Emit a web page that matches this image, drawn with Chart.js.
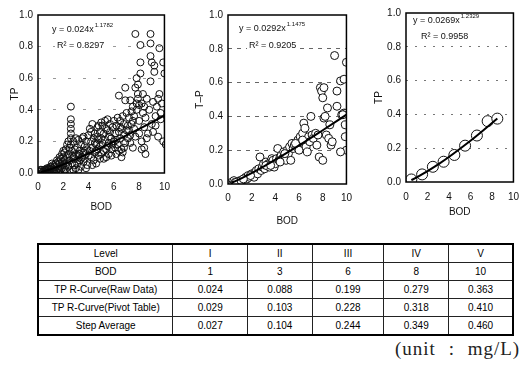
<!DOCTYPE html>
<html>
<head>
<meta charset="utf-8">
<script src="https://cdn.jsdelivr.net/npm/chart.js@4"></script>
<style>
  body { margin: 0; background: #fff; }
  #page { position: relative; width: 528px; height: 368px; overflow: hidden; font-family: "Liberation Sans", Arial, sans-serif; }
  .box { position: absolute; top: 0; }
  #tbl { position: absolute; left: 37px; top: 243px; width: 477px; border-collapse: collapse; border: 2px solid #000; font-size: 10px; color: #000; }
  #tbl td { border: 1px solid #222; height: 17px; padding: 0; text-align: center; }
  #unit { position: absolute; left: 395px; top: 338px; font-family: "Liberation Serif", "DejaVu Serif", serif; font-size: 19px; color: #222; white-space: nowrap; letter-spacing: 1px; word-spacing: 7px; }
</style>
</head>
<body>
<div id="page">
  <div class="box" style="left:0px"><canvas id="c1" width="178" height="218"></canvas></div>
  <div class="box" style="left:180px"><canvas id="c2" width="180" height="232"></canvas></div>
  <div class="box" style="left:362px"><canvas id="c3" width="166" height="222"></canvas></div>
  <table id="tbl"></table>
  <div id="unit">(unit : mg/L)</div>
</div>
<script>
// table rows
const levels = ["I", "II", "III", "IV", "V"];
const bodLevels = [1, 3, 6, 8, 10];
const rawCurve = [0.024, 0.088, 0.199, 0.279, 0.363];
const pivotCurve = [0.029, 0.103, 0.228, 0.318, 0.410];
const stepAverage = [0.027, 0.104, 0.244, 0.349, 0.460];

// chart 1 - raw data
const rawBod = [
  0.1,0.2,0.3,0.3,0.4,0.5,0.5,0.6,0.7,0.7,0.8,0.9,0.9,1.0,1.0,0.2,0.4,0.6,0.8,1.0,
  1.1,1.2,1.2,1.3,1.4,1.4,1.5,1.5,1.6,1.6,1.7,1.7,1.8,1.8,1.9,1.9,2.0,2.0,1.3,1.5,1.7,1.9,1.1,1.6,1.8,2.0,
  2.1,2.1,2.2,2.2,2.3,2.3,2.4,2.4,2.5,2.5,2.6,2.6,2.6,2.6,2.6,2.6,2.7,2.7,2.8,2.8,2.9,2.9,3.0,3.0,2.2,2.4,2.6,2.8,3.0,2.3,2.5,2.7,2.9,2.1,
  3.1,3.1,3.2,3.2,3.3,3.3,3.4,3.4,3.5,3.5,3.6,3.6,3.7,3.7,3.8,3.8,3.9,3.9,4.0,4.0,3.2,3.4,3.6,3.8,3.3,3.7,
  4.1,4.1,4.2,4.2,4.3,4.3,4.4,4.4,4.5,4.5,4.6,4.6,4.7,4.7,4.8,4.8,4.9,4.9,5.0,5.0,4.3,4.5,4.7,4.9,4.2,4.6,4.8,
  5.1,5.1,5.2,5.2,5.3,5.3,5.4,5.4,5.5,5.5,5.6,5.6,5.7,5.7,5.8,5.8,5.9,5.9,6.0,6.0,5.2,5.4,5.6,5.8,5.0,5.5,
  6.1,6.1,6.2,6.2,6.3,6.3,6.4,6.4,6.5,6.5,6.6,6.6,6.7,6.7,6.8,6.8,6.9,6.9,7.0,7.0,6.4,6.6,6.2,6.8,6.9,6.5,
  7.1,7.1,7.2,7.2,7.3,7.3,7.4,7.4,7.5,7.5,7.6,7.6,7.7,7.7,7.8,7.8,7.9,7.9,8.0,8.0,7.7,7.8,7.9,7.5,7.3,
  8.1,8.1,8.1,8.2,8.2,8.3,8.3,8.4,8.4,8.5,8.5,8.6,8.7,8.8,8.9,8.9,8.9,8.9,9.0,9.0,9.1,9.2,9.2,9.3,9.4,9.5,9.5,9.6,9.6,9.7,9.8,9.9,9.9,10.0,10.1,8.6,9.3,9.7,8.4,9.1,8.2,8.0
];
const rawTp = [
  0.01,0.01,0.02,0.00,0.01,0.02,0.00,0.02,0.01,0.03,0.02,0.03,0.01,0.02,0.04,0.02,0.00,0.01,0.03,0.01,
  0.03,0.05,0.02,0.04,0.06,0.01,0.05,0.08,0.03,0.07,0.06,0.10,0.04,0.09,0.07,0.12,0.05,0.10,0.00,0.02,0.01,0.03,0.06,0.00,0.02,0.14,
  0.08,0.13,0.05,0.15,0.10,0.18,0.04,0.12,0.08,0.16,0.42,0.34,0.31,0.28,0.25,0.22,0.06,0.14,0.10,0.20,0.05,0.15,0.12,0.22,0.02,0.20,0.18,0.02,0.03,0.07,0.01,0.11,0.09,0.02,
  0.06,0.16,0.11,0.21,0.08,0.14,0.18,0.04,0.10,0.22,0.13,0.07,0.17,0.09,0.12,0.20,0.15,0.05,0.11,0.24,0.02,0.09,0.23,0.03,0.12,0.14,
  0.14,0.28,0.10,0.20,0.16,0.31,0.08,0.22,0.13,0.25,0.18,0.06,0.15,0.29,0.21,0.11,0.17,0.26,0.12,0.32,0.05,0.19,0.23,0.09,0.26,0.14,0.30,
  0.19,0.30,0.14,0.25,0.21,0.33,0.10,0.28,0.17,0.34,0.23,0.12,0.26,0.31,0.15,0.22,0.29,0.18,0.20,0.33,0.09,0.15,0.19,0.11,0.22,0.27,
  0.25,0.16,0.30,0.21,0.35,0.18,0.49,0.26,0.22,0.33,0.10,0.28,0.13,0.36,0.24,0.31,0.54,0.19,0.27,0.38,0.14,0.15,0.12,0.16,0.46,0.29,
  0.30,0.22,0.35,0.27,0.46,0.19,0.39,0.31,0.16,0.42,0.28,0.36,0.88,0.54,0.60,0.44,0.47,0.56,0.33,0.25,0.23,0.40,0.50,0.33,0.24,
  0.81,0.70,0.63,0.20,0.44,0.50,0.38,0.42,0.29,0.12,0.35,0.47,0.25,0.40,0.88,0.82,0.74,0.58,0.70,0.31,0.45,0.68,0.64,0.36,0.42,0.23,0.47,0.79,0.50,0.38,0.44,0.70,0.20,0.63,0.18,0.22,0.30,0.34,0.16,0.26,0.15,0.43
];
const rawFitBod = [0.1, 1, 3, 6, 8, 10];
const rawFitTp = [0.002, 0.024, 0.088, 0.199, 0.279, 0.363];

// chart 2 - pivot table
const pivotBod = [
  0.3,0.4,0.5,0.6,0.8,0.9,1.0,1.2,1.4,1.5,1.6,1.7,1.8,2.0,2.1,2.2,2.3,2.4,2.5,2.6,2.7,2.8,2.9,3.0,
  3.1,3.2,3.3,3.4,3.5,3.6,3.7,3.8,3.9,4.0,4.1,4.2,4.3,4.4,4.5,4.6,4.7,4.8,4.9,5.0,5.1,5.2,5.3,5.4,5.5,5.6,5.8,5.9,
  6.0,6.1,6.2,6.3,6.4,6.5,6.6,6.7,6.8,6.9,7.0,7.1,7.2,7.4,7.5,7.6,7.7,7.8,7.9,8.0,8.0,8.1,8.1,8.2,8.3,8.4,8.5,8.6,8.7,8.8,
  9.0,9.2,9.5,9.6,9.8,9.9,10.0,9.8,10.0,9.9,10.0,9.5,9.2,9.7,
  0.7,1.1,1.3,1.9,3.2,3.6,4.4,4.8,5.7,6.3
];
const pivotTp = [
  0.01,0.00,0.02,0.01,0.01,0.00,0.02,0.02,0.03,0.04,0.03,0.05,0.04,0.06,0.05,0.04,0.07,0.08,0.06,0.09,0.16,0.08,0.10,0.12,
  0.09,0.13,0.11,0.12,0.10,0.13,0.15,0.14,0.10,0.12,0.15,0.21,0.14,0.16,0.17,0.15,0.19,0.17,0.14,0.20,0.18,0.22,0.14,0.24,0.21,0.23,0.22,0.26,
  0.20,0.28,0.25,0.30,0.36,0.33,0.22,0.19,0.28,0.25,0.40,0.29,0.27,0.30,0.23,0.29,0.16,0.57,0.55,0.51,0.14,0.57,0.39,0.40,0.29,0.45,0.27,0.35,0.23,0.25,
  0.76,0.55,0.61,0.41,0.42,0.35,0.42,0.62,0.72,0.28,0.20,0.19,0.46,0.41,
  0.01,0.02,0.03,0.05,0.11,0.11,0.13,0.18,0.24,0.26
];
const pivotFitBod = [0.3, 1, 3, 6, 8, 10];
const pivotFitTp = [0.007, 0.029, 0.103, 0.228, 0.318, 0.410];

// chart 3 - step average
const stepBod = [0.5, 1.5, 2.5, 3.5, 4.5, 5.5, 6.6, 7.6, 8.5];
const stepTp = [0.015, 0.045, 0.09, 0.12, 0.16, 0.215, 0.275, 0.36, 0.375];
const stepFitBod = [0.5, 1, 3, 6, 8, 8.5];
const stepFitTp = [0.011, 0.027, 0.104, 0.244, 0.349, 0.376];

const yTicks = [0.0, 0.2, 0.4, 0.6, 0.8, 1.0];
const xTicks = [0, 2, 4, 6, 8, 10];

// table
const tbl = document.getElementById("tbl");
const rows = [
  ["Level", ...levels],
  ["BOD", ...bodLevels],
  ["TP R-Curve(Raw Data)", ...rawCurve.map(v => v.toFixed(3))],
  ["TP R-Curve(Pivot Table)", ...pivotCurve.map(v => v.toFixed(3))],
  ["Step Average", ...stepAverage.map(v => v.toFixed(3))],
];
const colW = [136, 75, 65, 72, 65, 64];
rows.forEach(r => {
  const tr = document.createElement("tr");
  r.forEach((c, i) => {
    const td = document.createElement("td");
    td.textContent = c;
    td.style.width = colW[i] + "px";
    tr.appendChild(td);
  });
  tbl.appendChild(tr);
});

const pts = (xs, ys) => xs.map((x, i) => ({ x: x, y: ys[i] }));

const framePlugin = {
  id: "frame",
  afterDraw(chart) {
    const a = chart.chartArea;
    const ctx = chart.ctx;
    ctx.save();
    ctx.strokeStyle = "#000";
    ctx.lineWidth = 1.5;
    ctx.strokeRect(a.left, a.top, a.right - a.left, a.bottom - a.top);
    ctx.restore();
  },
};

// equation labels with a white box behind them
const eqPlugin = (lines) => ({
  id: "eq",
  afterDraw(chart) {
    const ctx = chart.ctx;
    ctx.save();
    ctx.textBaseline = "middle";
    lines.forEach(l => {
      ctx.font = "9px 'Liberation Sans', Arial";
      const w = ctx.measureText(l.text).width;
      ctx.font = "6px 'Liberation Sans', Arial";
      const sw = l.sup ? ctx.measureText(l.sup).width + 1 : 0;
      ctx.fillStyle = "#fff";
      ctx.fillRect(l.x - 2, l.y - 7, w + sw + 4, 13);
      ctx.fillStyle = "#111";
      ctx.font = "9px 'Liberation Sans', Arial";
      ctx.fillText(l.text, l.x, l.y);
      if (l.sup) {
        ctx.font = "6px 'Liberation Sans', Arial";
        ctx.fillText(l.sup, l.x + w + 1, l.y - 5);
      }
    });
    ctx.restore();
  },
});

function makeChart(id, o) {
  return new Chart(document.getElementById(id), {
    type: "scatter",
    data: {
      datasets: [
        {
          data: pts(o.xs, o.ys),
          order: 2,
          pointStyle: "circle",
          pointRadius: o.r,
          pointBorderColor: "#111",
          pointBackgroundColor: o.fill,
          pointBorderWidth: 1,
        },
        {
          data: pts(o.fx, o.fy),
          order: 1,
          showLine: true,
          borderColor: "#000",
          borderWidth: 2,
          pointRadius: 0,
          cubicInterpolationMode: "monotone",
        },
      ],
    },
    options: {
      responsive: false,
      animation: false,
      layout: { padding: { top: o.top, right: o.right, left: 0, bottom: 0 } },
      plugins: { legend: { display: false }, tooltip: { enabled: false } },
      scales: {
        x: {
          type: "linear",
          min: 0,
          max: 10,
          afterBuildTicks: s => { s.ticks = xTicks.map(v => ({ value: v })); },
          afterFit: s => { s.height = o.xh; },
          grid: { display: false, drawTicks: false },
          border: { display: false },
          ticks: { padding: o.xpad, color: "#111", font: { size: 10, family: "'Liberation Sans', Arial" } },
          title: { display: true, text: "BOD", color: "#111", padding: { top: 0, bottom: o.tpad }, font: { size: 10, family: "'Liberation Sans', Arial" } },
        },
        y: {
          type: "linear",
          min: 0,
          max: 1,
          afterBuildTicks: s => { s.ticks = yTicks.map(v => ({ value: v })); },
          afterFit: s => { s.width = o.yw; },
          grid: {
            drawTicks: false,
            color: c => (c.tick.value > 0.01 && c.tick.value < 0.99) ? o.gridColor : "rgba(0,0,0,0)",
          },
          border: { display: false, dash: o.dash },
          ticks: { padding: 5, color: "#111", callback: v => v.toFixed(1), font: { size: 10, family: "'Liberation Sans', Arial" } },
          title: { display: true, text: o.ytitle, color: "#111", padding: { top: o.ytpad, bottom: 0 }, font: { size: 10, family: "'Liberation Sans', Arial" } },
        },
      },
    },
    plugins: [eqPlugin(o.eq), framePlugin],
  });
}

makeChart("c1", {
  xs: rawBod, ys: rawTp, fx: rawFitBod, fy: rawFitTp, r: 3.5, fill: "rgba(255,255,255,0)",
  top: 15, right: 8, xh: 45, yw: 38, xpad: 8, tpad: 5, ytpad: 9, ytitle: "TP",
  gridColor: "#999", dash: [3, 12],
  eq: [{ x: 52, y: 30, text: "y = 0.024x", sup: "1.1782" }, { x: 57, y: 46, text: "R\u00b2 = 0.8297" }],
});
makeChart("c2", {
  xs: pivotBod, ys: pivotTp, fx: pivotFitBod, fy: pivotFitTp, r: 4, fill: "#fff",
  top: 15, right: 3, xh: 48, yw: 48, xpad: 8, tpad: 5, ytpad: 14, ytitle: "T\u2013P",
  gridColor: "#666", dash: [4, 5],
  eq: [{ x: 59, y: 29, text: "y = 0.0292x", sup: "1.1475" }, { x: 69, y: 46, text: "R\u00b2 = 0.9205" }],
});
makeChart("c3", {
  xs: stepBod, ys: stepTp, fx: stepFitBod, fy: stepFitTp, r: 5.5, fill: "#fff",
  top: 13, right: 6, xh: 40, yw: 44, xpad: 9, tpad: 4, ytpad: 11, ytitle: "TP",
  gridColor: "#777", dash: [2, 7],
  eq: [{ x: 51, y: 21, text: "y = 0.0269x", sup: "1.2329" }, { x: 59, y: 37, text: "R\u00b2 = 0.9958" }],
});
</script>
</body>
</html>
